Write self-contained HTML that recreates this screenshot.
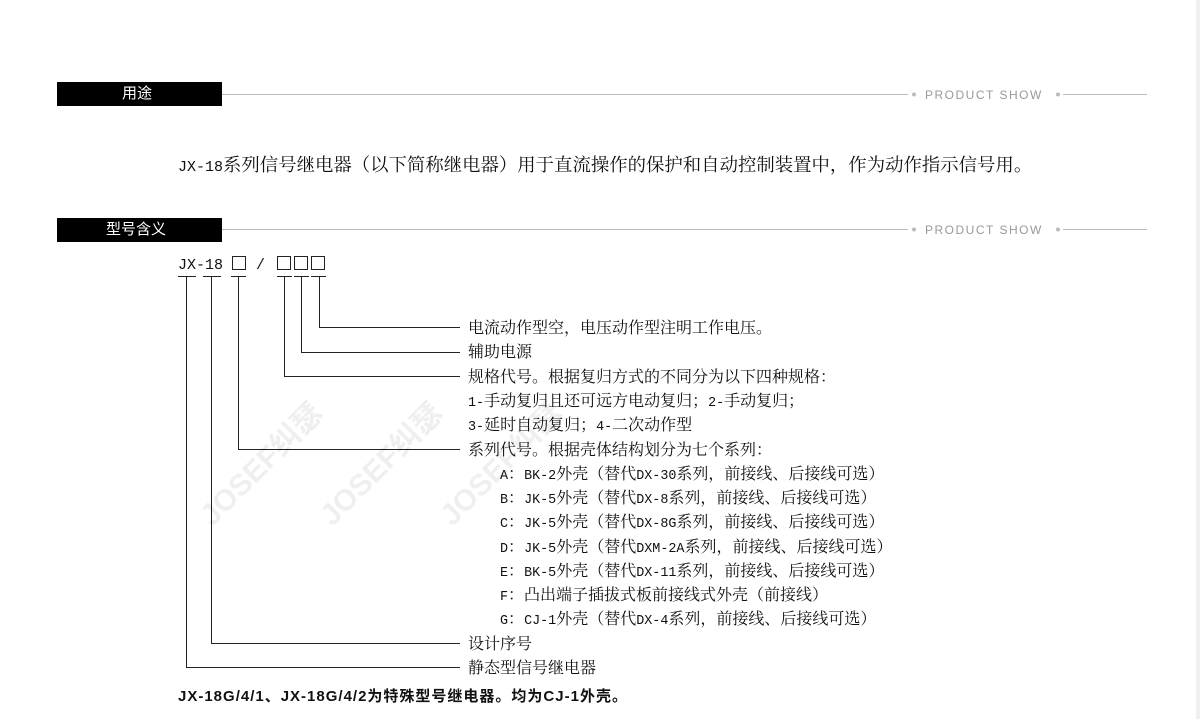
<!DOCTYPE html>
<html><head><meta charset="utf-8"><style>
body{margin:0;width:1200px;height:719px;background:#fff;position:relative;overflow:hidden;font-family:"Noto Serif CJK SC","Liberation Serif",serif;color:#111}
.t{position:absolute;font-size:16px;line-height:18px;white-space:nowrap}
.t i{font-style:normal;font-family:"Liberation Mono",monospace;font-size:13.4px}
.bar{position:absolute;left:57px;width:165px;height:24px;background:#000;color:#fff;font-family:"Liberation Sans","Noto Sans CJK SC",sans-serif;font-size:15px;line-height:24px}
.ps{position:absolute;left:925px;font-family:"Liberation Sans",sans-serif;font-size:12px;letter-spacing:1.5px;color:#999;line-height:14px}
.wm{position:absolute;font-family:"Liberation Sans","Noto Sans CJK SC",sans-serif;font-weight:bold;font-size:30px;color:#000;opacity:.06;transform:rotate(-45deg);white-space:nowrap}
</style></head><body>
<div style="position:absolute;right:0;top:0;width:4px;height:719px;background:#f0f0f0"></div>
<svg width="1200" height="719" style="position:absolute;left:0;top:0">
<g stroke="#bbb" stroke-width="1"><line x1="222" y1="94.5" x2="908" y2="94.5"/><line x1="1063" y1="94.5" x2="1147" y2="94.5"/>
<line x1="222" y1="229.5" x2="908" y2="229.5"/><line x1="1063" y1="229.5" x2="1147" y2="229.5"/></g>
<g fill="#bbb"><circle cx="914" cy="94.5" r="2"/><circle cx="1058" cy="94.5" r="2"/><circle cx="914" cy="229.5" r="2"/><circle cx="1058" cy="229.5" r="2"/></g>
<g stroke="#222" stroke-width="1" fill="none">
<line x1="178" y1="276.5" x2="196" y2="276.5"/><line x1="203" y1="276.5" x2="221" y2="276.5"/><line x1="231" y1="276.5" x2="246" y2="276.5"/>
<line x1="277" y1="276.5" x2="292" y2="276.5"/><line x1="294" y1="276.5" x2="309" y2="276.5"/><line x1="311" y1="276.5" x2="326" y2="276.5"/>
<polyline points="319.5,277 319.5,327.5 460,327.5"/>
<polyline points="301.5,277 301.5,352.5 460,352.5"/>
<polyline points="284.5,277 284.5,376.5 460,376.5"/>
<polyline points="238.5,277 238.5,449.5 460,449.5"/>
<polyline points="211.5,277 211.5,643.5 460,643.5"/>
<polyline points="186.5,277 186.5,667.5 460,667.5"/>
<rect x="232.5" y="256.5" width="13" height="13"/><rect x="277.5" y="256.5" width="13" height="13"/><rect x="294.5" y="256.5" width="13" height="13"/><rect x="311.5" y="256.5" width="13" height="13"/>
</g></svg>
<div class="bar" style="top:82px;padding-left:65px;box-sizing:border-box">用途</div>
<div class="ps" style="top:88px">PRODUCT SHOW</div>
<div class="bar" style="top:218px;padding-left:49px;box-sizing:border-box">型号含义</div>
<div class="ps" style="top:223px">PRODUCT SHOW</div>
<div class="wm" style="left:180px;top:440px">JOSEF纠瑟</div>
<div class="wm" style="left:300px;top:440px">JOSEF纠瑟</div>
<div class="wm" style="left:420px;top:440px">JOSEF纠瑟</div>
<div class="t" style="left:178px;top:154px;font-size:18.4px;line-height:20px"><i style="font-size:15px">JX-18</i>系列信号继电器（以下简称继电器）用于直流操作的保护和自动控制装置中，作为动作指示信号用。</div>
<div class="t" style="left:178px;top:254px"><i style="font-size:15px">JX-18</i></div>
<div class="t" style="left:256px;top:254px"><i style="font-size:15px">/</i></div>
<div class="t" style="left:468px;top:318px">电流动作型空，电压动作型注明工作电压。</div>
<div class="t" style="left:468px;top:342px">辅助电源</div>
<div class="t" style="left:468px;top:367px">规格代号。根据复归方式的不同分为以下四种规格：</div>
<div class="t" style="left:468px;top:391px"><i>1-</i>手动复归且还可远方电动复归；<i>2-</i>手动复归；</div>
<div class="t" style="left:468px;top:415px"><i>3-</i>延时自动复归；<i>4-</i>二次动作型</div>
<div class="t" style="left:468px;top:440px">系列代号。根据壳体结构划分为七个系列：</div>
<div class="t" style="left:500px;top:464px"><i>A</i>：<i>BK-2</i>外壳（替代<i>DX-30</i>系列，前接线、后接线可选）</div>
<div class="t" style="left:500px;top:488px"><i>B</i>：<i>JK-5</i>外壳（替代<i>DX-8</i>系列，前接线、后接线可选）</div>
<div class="t" style="left:500px;top:512px"><i>C</i>：<i>JK-5</i>外壳（替代<i>DX-8G</i>系列，前接线、后接线可选）</div>
<div class="t" style="left:500px;top:537px"><i>D</i>：<i>JK-5</i>外壳（替代<i>DXM-2A</i>系列，前接线、后接线可选）</div>
<div class="t" style="left:500px;top:561px"><i>E</i>：<i>BK-5</i>外壳（替代<i>DX-11</i>系列，前接线、后接线可选）</div>
<div class="t" style="left:500px;top:585px"><i>F</i>：凸出端子插拔式板前接线式外壳（前接线）</div>
<div class="t" style="left:500px;top:609px"><i>G</i>：<i>CJ-1</i>外壳（替代<i>DX-4</i>系列，前接线、后接线可选）</div>
<div class="t" style="left:468px;top:634px">设计序号</div>
<div class="t" style="left:468px;top:658px">静态型信号继电器</div>
<div class="t" style="left:178px;top:688px;font-family:'Liberation Sans','Noto Sans CJK SC',sans-serif;font-weight:bold;font-size:15px;letter-spacing:1px">JX-18G/4/1、JX-18G/4/2为特殊型号继电器。均为CJ-1外壳。</div>
</body></html>
